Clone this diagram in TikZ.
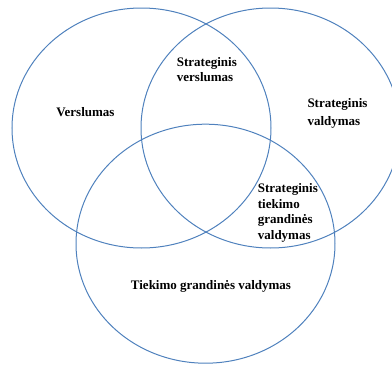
\documentclass[tikz,border=0pt]{standalone}
\usepackage{fontspec}
\setmainfont{Liberation Serif}
\usepackage{tikz}
\usetikzlibrary{shapes.geometric}
\definecolor{setblue}{RGB}{79,129,189}

\begin{document}
\begin{tikzpicture}[x=1pt,y=-1pt,
  set node/.style={ellipse,draw=setblue,line width=1pt,inner sep=0pt,
    minimum width=259pt,minimum height=240pt},
  text node/.style={font=\fontsize{13}{15.6}\selectfont\bfseries,inner sep=0pt,align=left}]
  \useasboundingbox (0,0) rectangle (392,367);
  \node[set node] (1) at (141.5,128) {};
  \node[set node] (2) at (270.5,128) {};
  \node[set node, minimum height=239pt] (3) at (205.5,243.7) {};

  \node[text node] (a) at (85.5,112) {Verslumas};
  \node[text node, anchor=west] (b) at (176.7,69.5) {Strateginis\\verslumas};
  \node[text node, anchor=west] (c) at (307.3,113.3) {Strateginis\\[3pt]valdymas};
  \node[text node, anchor=west] (d) at (257.7,212.7) {Strateginis\\tiekimo\\grandinės\\valdymas};
  \node[text node] (e) at (211,286.7) {Tiekimo grandinės valdymas};
\end{tikzpicture}
\end{document}
